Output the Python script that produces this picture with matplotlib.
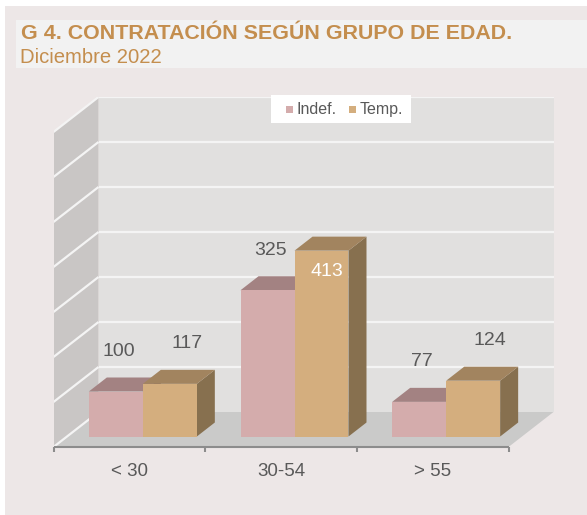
import matplotlib
matplotlib.use("Agg")
import matplotlib.pyplot as plt
from matplotlib.patches import Polygon, Rectangle

plt.rcParams['font.family'] = ['Liberation Sans', 'DejaVu Sans']

# ---------------- data ----------------
categories = ["< 30", "30-54", "> 55"]
series_names = ["Indef.", "Temp."]
indef = [100, 325, 77]
temp = [117, 413, 124]
y_max = 700
y_step = 100

title = "G 4. CONTRATACIÓN SEGÚN GRUPO DE EDAD."
subtitle = "Diciembre 2022"

# ---------------- style ----------------
BG = "#EDE7E7"
TITLE_BG = "#F2F2F2"
TITLE_COL = "#C48E4E"
TXT = "#595959"
BACK_WALL = "#E1E0DF"
SIDE_WALL = "#C9C6C5"
FLOOR = "#CACAC9"
GRID = "#F4F4F4"
front_cols = ["#D4ACAC", "#D4AE7E"]
top_cols = ["#A38282", "#A2845F"]
side_cols = ["#846868", "#87704F"]
label_dx_px = [3, 17]     # horizontal label offset per series (pixels)

W, H = 587, 515
fig = plt.figure(figsize=(W / 100, H / 100), dpi=100)
fig.patch.set_facecolor("white")
fig.add_artist(Rectangle((5 / W, 0), 1, 1 - 6 / H, transform=fig.transFigure,
                         facecolor=BG, edgecolor="none", zorder=-10))
fig.add_artist(Rectangle((16 / W, 1 - 68 / H), 1, 48 / H, transform=fig.transFigure,
                         facecolor=TITLE_BG, edgecolor="none", zorder=-9))
fig.text(21 / W, 1 - 39 / H, title, fontsize=15.4, fontweight="bold", color=TITLE_COL,
         va="baseline", ha="left")
fig.text(20 / W, 1 - 63 / H, subtitle, fontsize=14.6, color=TITLE_COL,
         va="baseline", ha="left")

# axes: front-floor left (53.5,447) .. back-wall top right (553.5,97)
AX_L, AX_R, AX_B, AX_T = 53.5, 553.5, 447, 97
ax = fig.add_axes([AX_L / W, (H - AX_B) / H, (AX_R - AX_L) / W, (AX_B - AX_T) / H])
ax.set_axis_off()
n = len(categories)
DEPTH_PX = (45, 35)
PXX = (AX_R - AX_L - DEPTH_PX[0]) / n   # pixels per category
PXV = (AX_B - AX_T - DEPTH_PX[1]) / y_max  # pixels per value unit
DX = DEPTH_PX[0] / PXX
DV = DEPTH_PX[1] / PXV
ax.set_xlim(-0.5, n - 0.5 + DX)
ax.set_ylim(0, y_max + DV)


def P(x, v, d):
    return (x + d * DX, v + d * DV)


def poly(pts, color, z):
    ax.add_patch(Polygon(pts, closed=True, facecolor=color, edgecolor="none", zorder=z))


x0, x1 = -0.5, n - 0.5
# walls / floor
poly([P(x0, 0, 1), P(x1, 0, 1), P(x1, y_max, 1), P(x0, y_max, 1)], BACK_WALL, 1)
poly([P(x0, 0, 0), P(x0, 0, 1), P(x0, y_max, 1), P(x0, y_max, 0)], SIDE_WALL, 1)
poly([P(x0, 0, 0), P(x1, 0, 0), P(x1, 0, 1), P(x0, 0, 1)], FLOOR, 1)

# gridlines
for g in range(0, y_max + 1, y_step):
    a, b = P(x0, g, 1), P(x1, g, 1)
    if g > 0:
        ax.plot([a[0], b[0]], [a[1], b[1]], color=GRID, lw=1.6, zorder=2, solid_capstyle="butt")
    c = P(x0, g, 0)
    ax.plot([c[0], a[0]], [c[1], a[1]], color=GRID, lw=1.6, zorder=2, solid_capstyle="butt")

# bars
bw = 0.356
d0, d1 = 0.3, 0.7
values = [indef, temp]
for i in range(n):
    for s in range(2):
        v = values[s][i]
        xa = i - bw + s * bw
        xb = xa + bw
        z = 5 + i * 3 + s
        poly([P(xb, 0, d0), P(xb, v, d0), P(xb, v, d1), P(xb, 0, d1)], side_cols[s], z)
        poly([P(xa, v, d0), P(xb, v, d0), P(xb, v, d1), P(xa, v, d1)], top_cols[s], z)
        poly([P(xa, 0, d0), P(xb, 0, d0), P(xb, v, d0), P(xa, v, d0)], front_cols[s], z)
        cx, cy = P((xa + xb) / 2, v, d0)
        if v > 400:
            ax.text(cx + 5 / PXX, cy - 21 / PXV, str(v), color="white", fontsize=14,
                    ha="center", va="center", zorder=30)
        else:
            ax.text(cx + label_dx_px[s] / PXX, cy + 40 / PXV, str(v), color=TXT,
                    fontsize=14, ha="center", va="center", zorder=30)

# category axis
ax.plot([x0, x1], [0, 0], color="#8C8C8C", lw=1.5, zorder=20, clip_on=False,
        solid_capstyle="butt")
for k in range(n + 1):
    ax.plot([x0 + k, x0 + k], [0, -5 / PXV], color="#8C8C8C", lw=1.5, zorder=20,
            clip_on=False, solid_capstyle="butt")
for i, c in enumerate(categories):
    ax.text(i, -24 / PXV, c, color=TXT, fontsize=13.5, ha="center", va="center")

# legend (drawn manually in figure pixels)
fig.add_artist(Rectangle((271 / W, 1 - 123 / H), 140 / W, 28 / H, transform=fig.transFigure,
                         facecolor="white", edgecolor="none", zorder=40))
leg_marker_x = [286, 349]
for s in range(2):
    mx = leg_marker_x[s]
    fig.add_artist(Rectangle((mx / W, 1 - 113 / H), 7 / W, 7 / H, transform=fig.transFigure,
                             facecolor=front_cols[s], edgecolor="none", zorder=41))
    fig.text((mx + 11) / W, 1 - 109.5 / H, series_names[s], fontsize=11.5, color=TXT,
             ha="left", va="center", zorder=42)

fig.savefig("out.png", dpi=100, facecolor=fig.get_facecolor())
